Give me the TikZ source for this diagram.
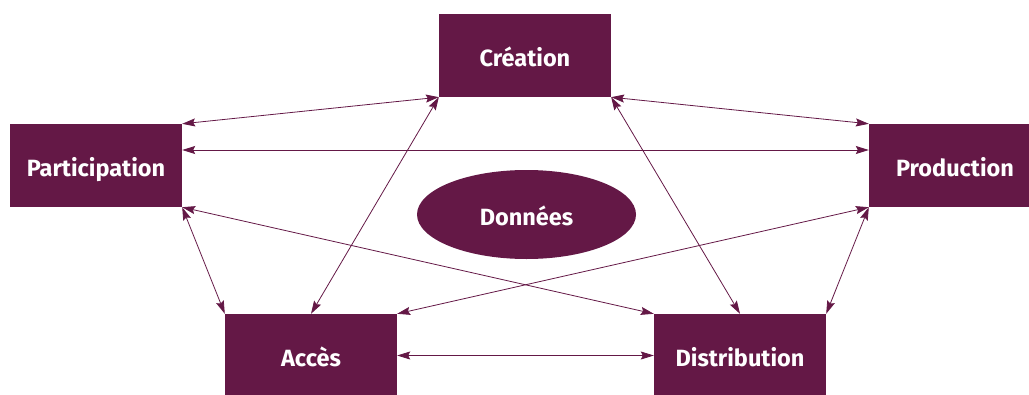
\documentclass[tikz,border=0pt]{standalone}
\usepackage{fontspec}
\setmainfont{Fira Sans}
\usetikzlibrary{arrows.meta,shapes.geometric}
\definecolor{prune}{RGB}{100,24,70}

\begin{document}
\begin{tikzpicture}[x=1pt,y=-1pt,
    bloc/.style={fill=prune,text=white,minimum width=172pt,minimum height=83pt,inner sep=0pt,text height=21pt,text depth=0pt,font=\bfseries\fontsize{23.5}{26}\selectfont},
    lien/.style={draw=prune,line width=0.8pt,{Stealth[length=13pt,width=8pt,inset=2pt]}-{Stealth[length=13pt,width=8pt,inset=2pt]}}]
             \useasboundingbox (0,0) rectangle (1029,394);
             \node[bloc] (creation) at (525,55.5) {Création};
             \node[bloc] (participation) at (96,165.5) {Participation};
             \node[bloc] (production) at (955,165.5) {Production};
             \node[bloc] (acces) at (311,355.5) {Accès};
             \node[bloc] (distribution) at (740,355.5) {Distribution};
             \node[bloc,ellipse,minimum width=219pt,minimum height=89pt] (donnees) at (526.5,214.5) {Données};
             \draw[lien] (participation.north east) -- (creation.south west);
             \draw[lien] (creation.south east) -- (production.north west);
             \draw[lien] ([yshift=15.5pt]participation.east) -- ([yshift=15.5pt]production.west);
             \draw[lien] (creation.south west) -- (acces.north);
             \draw[lien] (creation.south east) -- (distribution.north);
             \draw[lien] (participation.south east) -- (acces.north west);
             \draw[lien] (participation.south east) -- (distribution.north west);
             \draw[lien] (production.south west) -- (acces.north east);
             \draw[lien] (production.south west) -- (distribution.north east);
             \draw[lien] (acces.east) -- (distribution.west);
            \end{tikzpicture}
\end{document}
